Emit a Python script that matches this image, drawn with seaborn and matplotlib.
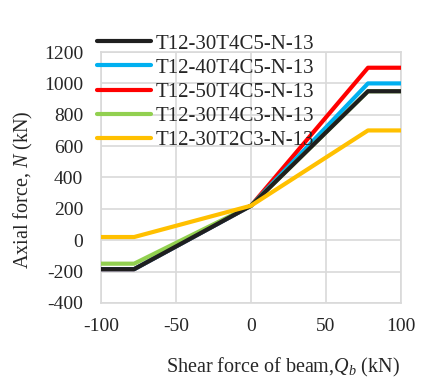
import matplotlib
matplotlib.use("Agg")
import matplotlib.pyplot as plt
import seaborn as sns
import pandas as pd
from matplotlib.lines import Line2D

labels = ["T12-30T4C5-N-13", "T12-40T4C5-N-13", "T12-50T4C5-N-13",
          "T12-30T4C3-N-13", "T12-30T2C3-N-13"]
colors = ["#1f1f1f", "#00b0f0", "#ff0000", "#92d050", "#ffc000"]
x_pts = [-100, -78, 0, 78, 100]
y_black = [-185, -185, 220, 950, 950]
y_blue = [-185, -185, 220, 1000, 1000]
y_red = [-185, -185, 220, 1100, 1100]
y_green = [-150, -150, 220, 950, 950]
y_yellow = [20, 20, 220, 700, 700]
series = [y_black, y_blue, y_red, y_green, y_yellow]

rows = []
for lab, ys in zip(labels, series):
    for xv, yv in zip(x_pts, ys):
        rows.append({"Q": xv, "N": yv, "series": lab})
df = pd.DataFrame(rows)

sns.set_style("white")
plt.rcParams["font.family"] = ["Liberation Serif"]
plt.rcParams["mathtext.fontset"] = "custom"
plt.rcParams["mathtext.it"] = "Liberation Serif:italic"
plt.rcParams["mathtext.rm"] = "Liberation Serif"
plt.rcParams["axes.unicode_minus"] = False

fig = plt.figure(figsize=(4.27, 3.8), dpi=100)
ax = fig.add_axes([0.237, 0.203, 0.702, 0.66])

# draw order: red, blue, green, black, yellow
draw_order = [2, 1, 3, 0, 4]
for z, i in enumerate(draw_order):
    sub = df[df["series"] == labels[i]]
    sns.lineplot(data=sub, x="Q", y="N", color=colors[i], linewidth=3,
                 ax=ax, legend=False, sort=False, zorder=3 + z)

ax.set_xlim(-100, 100)
ax.set_ylim(-400, 1200)
ax.set_xticks([-100, -50, 0, 50, 100])
ax.set_yticks(range(-400, 1201, 200))
ax.grid(True, color="#d9d9d9", linewidth=1.2)
for s in ax.spines.values():
    s.set_color("#d9d9d9")
    s.set_linewidth(1.2)
ax.tick_params(axis="both", labelsize=14, length=0)
ax.tick_params(axis="y", pad=13)
ax.tick_params(axis="x", pad=11)
ax.set_xlabel(r"Shear force of beam,$Q_b$ (kN)", fontsize=14.5)
ax.set_ylabel(r"Axial force, $N$ (kN)", fontsize=14.5)
ax.xaxis.set_label_coords(0.607, -0.212)
ax.yaxis.set_label_coords(-0.222, 0.45)

handles = [Line2D([0], [0], color=c, lw=3) for c in colors]
leg = ax.legend(handles, labels, loc="upper left", bbox_to_anchor=(-0.013, 1.072),
                frameon=False, fontsize=15, handlelength=2.6, handletextpad=0.2,
                labelspacing=0.22, borderaxespad=0, borderpad=0)
fig.savefig("out.png", dpi=100)
